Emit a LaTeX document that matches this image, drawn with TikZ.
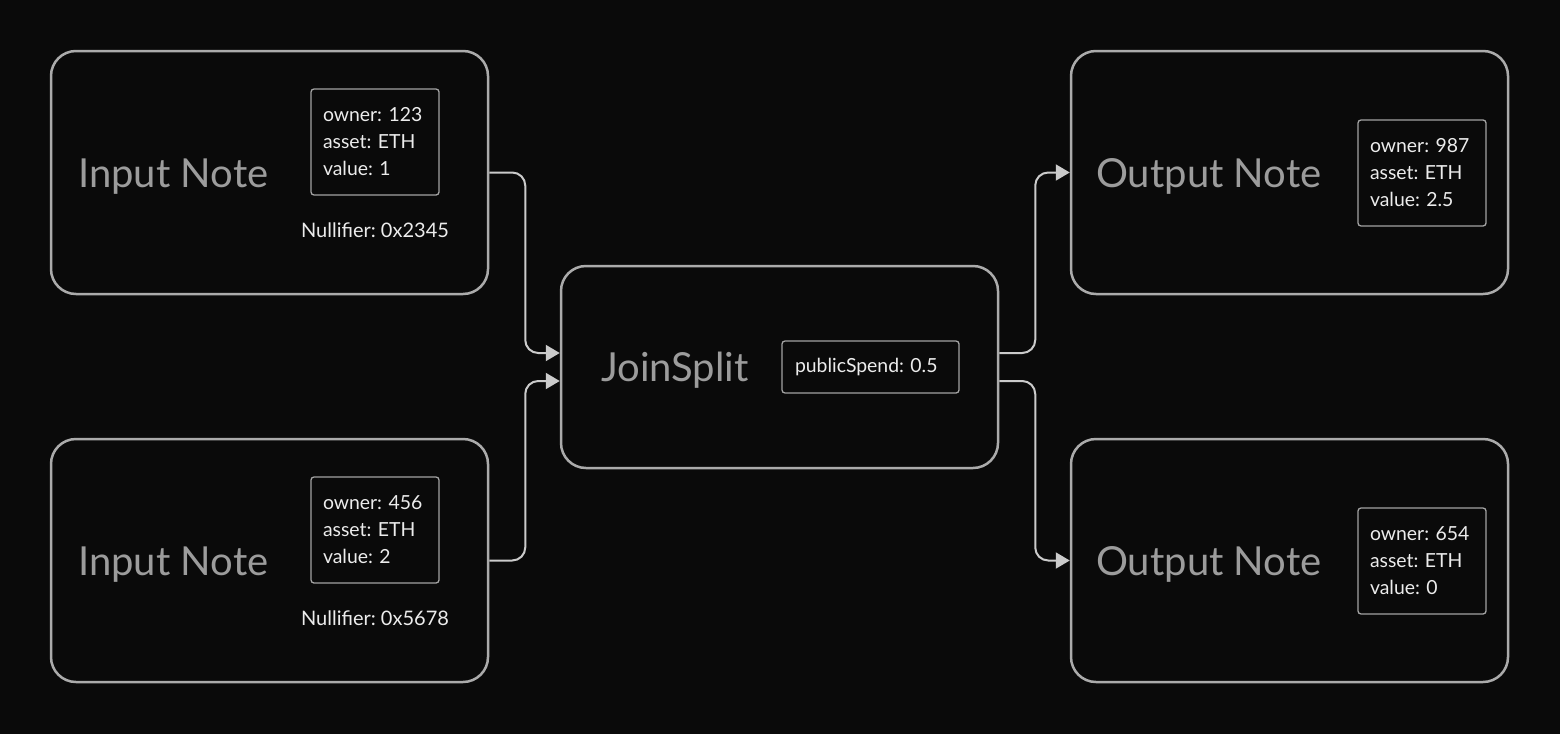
\documentclass[tikz,border=0pt]{standalone}
\usepackage{fontspec}
\setmainfont{Lato}
\usetikzlibrary{arrows.meta}
\frenchspacing

\begin{document}
\begin{tikzpicture}[x=1pt,y=-1pt,
  note/.style={draw=edge,line width=2.5pt,rounded corners=25pt,minimum width=437pt,minimum height=243pt},
  title/.style={text=titlegray,font=\fontsize{40}{48}\selectfont,inner sep=0pt},
  field/.style={draw=fieldedge,line width=1.3pt,rounded corners=3pt,text=ink,align=left,
    inner xsep=13pt,inner ysep=0pt,font=\fontsize{19.4}{27}\selectfont},
  nul/.style={text=ink,font=\fontsize{20}{24}\selectfont,inner sep=0pt},
  link/.style={draw=wire,line width=2pt,rounded corners=13pt,-{Triangle[length=14pt,width=16pt]}}]
\definecolor{bg}{HTML}{0A0A0A}\definecolor{edge}{HTML}{ABABAB}
\definecolor{fieldedge}{HTML}{A3A3A3}\definecolor{wire}{HTML}{CBCBCB}
\definecolor{titlegray}{HTML}{9C9C9C}\definecolor{ink}{HTML}{ECECEC}
\fill[bg] (0,0) rectangle (1560,734);
% inputs
\node[note] (in1) at (269.5,172.5) {};
\node[title,anchor=base west] (in1t) at (78,187) {Input Note};
\node[field,text width=104pt,minimum height=106pt,inner xsep=12pt] (in1f) at (375,142) {owner: 123\\asset: ETH\\value: 1};
\node[nul,anchor=base] (in1n) at (375,237) {Nullifier: 0x2345};
\node[note] (in2) at (269.5,560.5) {};
\node[title,anchor=base west] (in2t) at (78,575) {Input Note};
\node[field,text width=104pt,minimum height=106pt,inner xsep=12pt] (in2f) at (375,530) {owner: 456\\asset: ETH\\value: 2};
\node[nul,anchor=base] (in2n) at (375,625) {Nullifier: 0x5678};
% joinsplit
\node[note,minimum height=202pt] (js) at (779.5,367) {};
\node[title,anchor=base west] (jst) at (601,381) {JoinSplit};
\node[field,text width=151pt,minimum height=52pt] (jsf) at (870.5,367) {publicSpend: 0.5};
% outputs
\node[note] (out1) at (1289.5,172.5) {};
\node[title,anchor=base west] (out1t) at (1096,187) {Output Note};
\node[field,text width=104pt,minimum height=106pt,inner xsep=12pt] (out1f) at (1422,173) {owner: 987\\asset: ETH\\value: 2.5};
\node[note] (out2) at (1289.5,560.5) {};
\node[title,anchor=base west] (out2t) at (1096,575) {Output Note};
\node[field,text width=104pt,minimum height=106pt,inner xsep=12pt] (out2f) at (1422,561) {owner: 654\\asset: ETH\\value: 0};
% wires
\draw[link] (in1.east) -- ++(36,0) |- ([yshift=14pt]js.west);
\draw[link] (in2.east) -- ++(36,0) |- ([yshift=-14pt]js.west);
\draw[link] ([yshift=14pt]js.east) -- ++(36,0) |- (out1.west);
\draw[link] ([yshift=-14pt]js.east) -- ++(36,0) |- (out2.west);
\end{tikzpicture}
\end{document}
